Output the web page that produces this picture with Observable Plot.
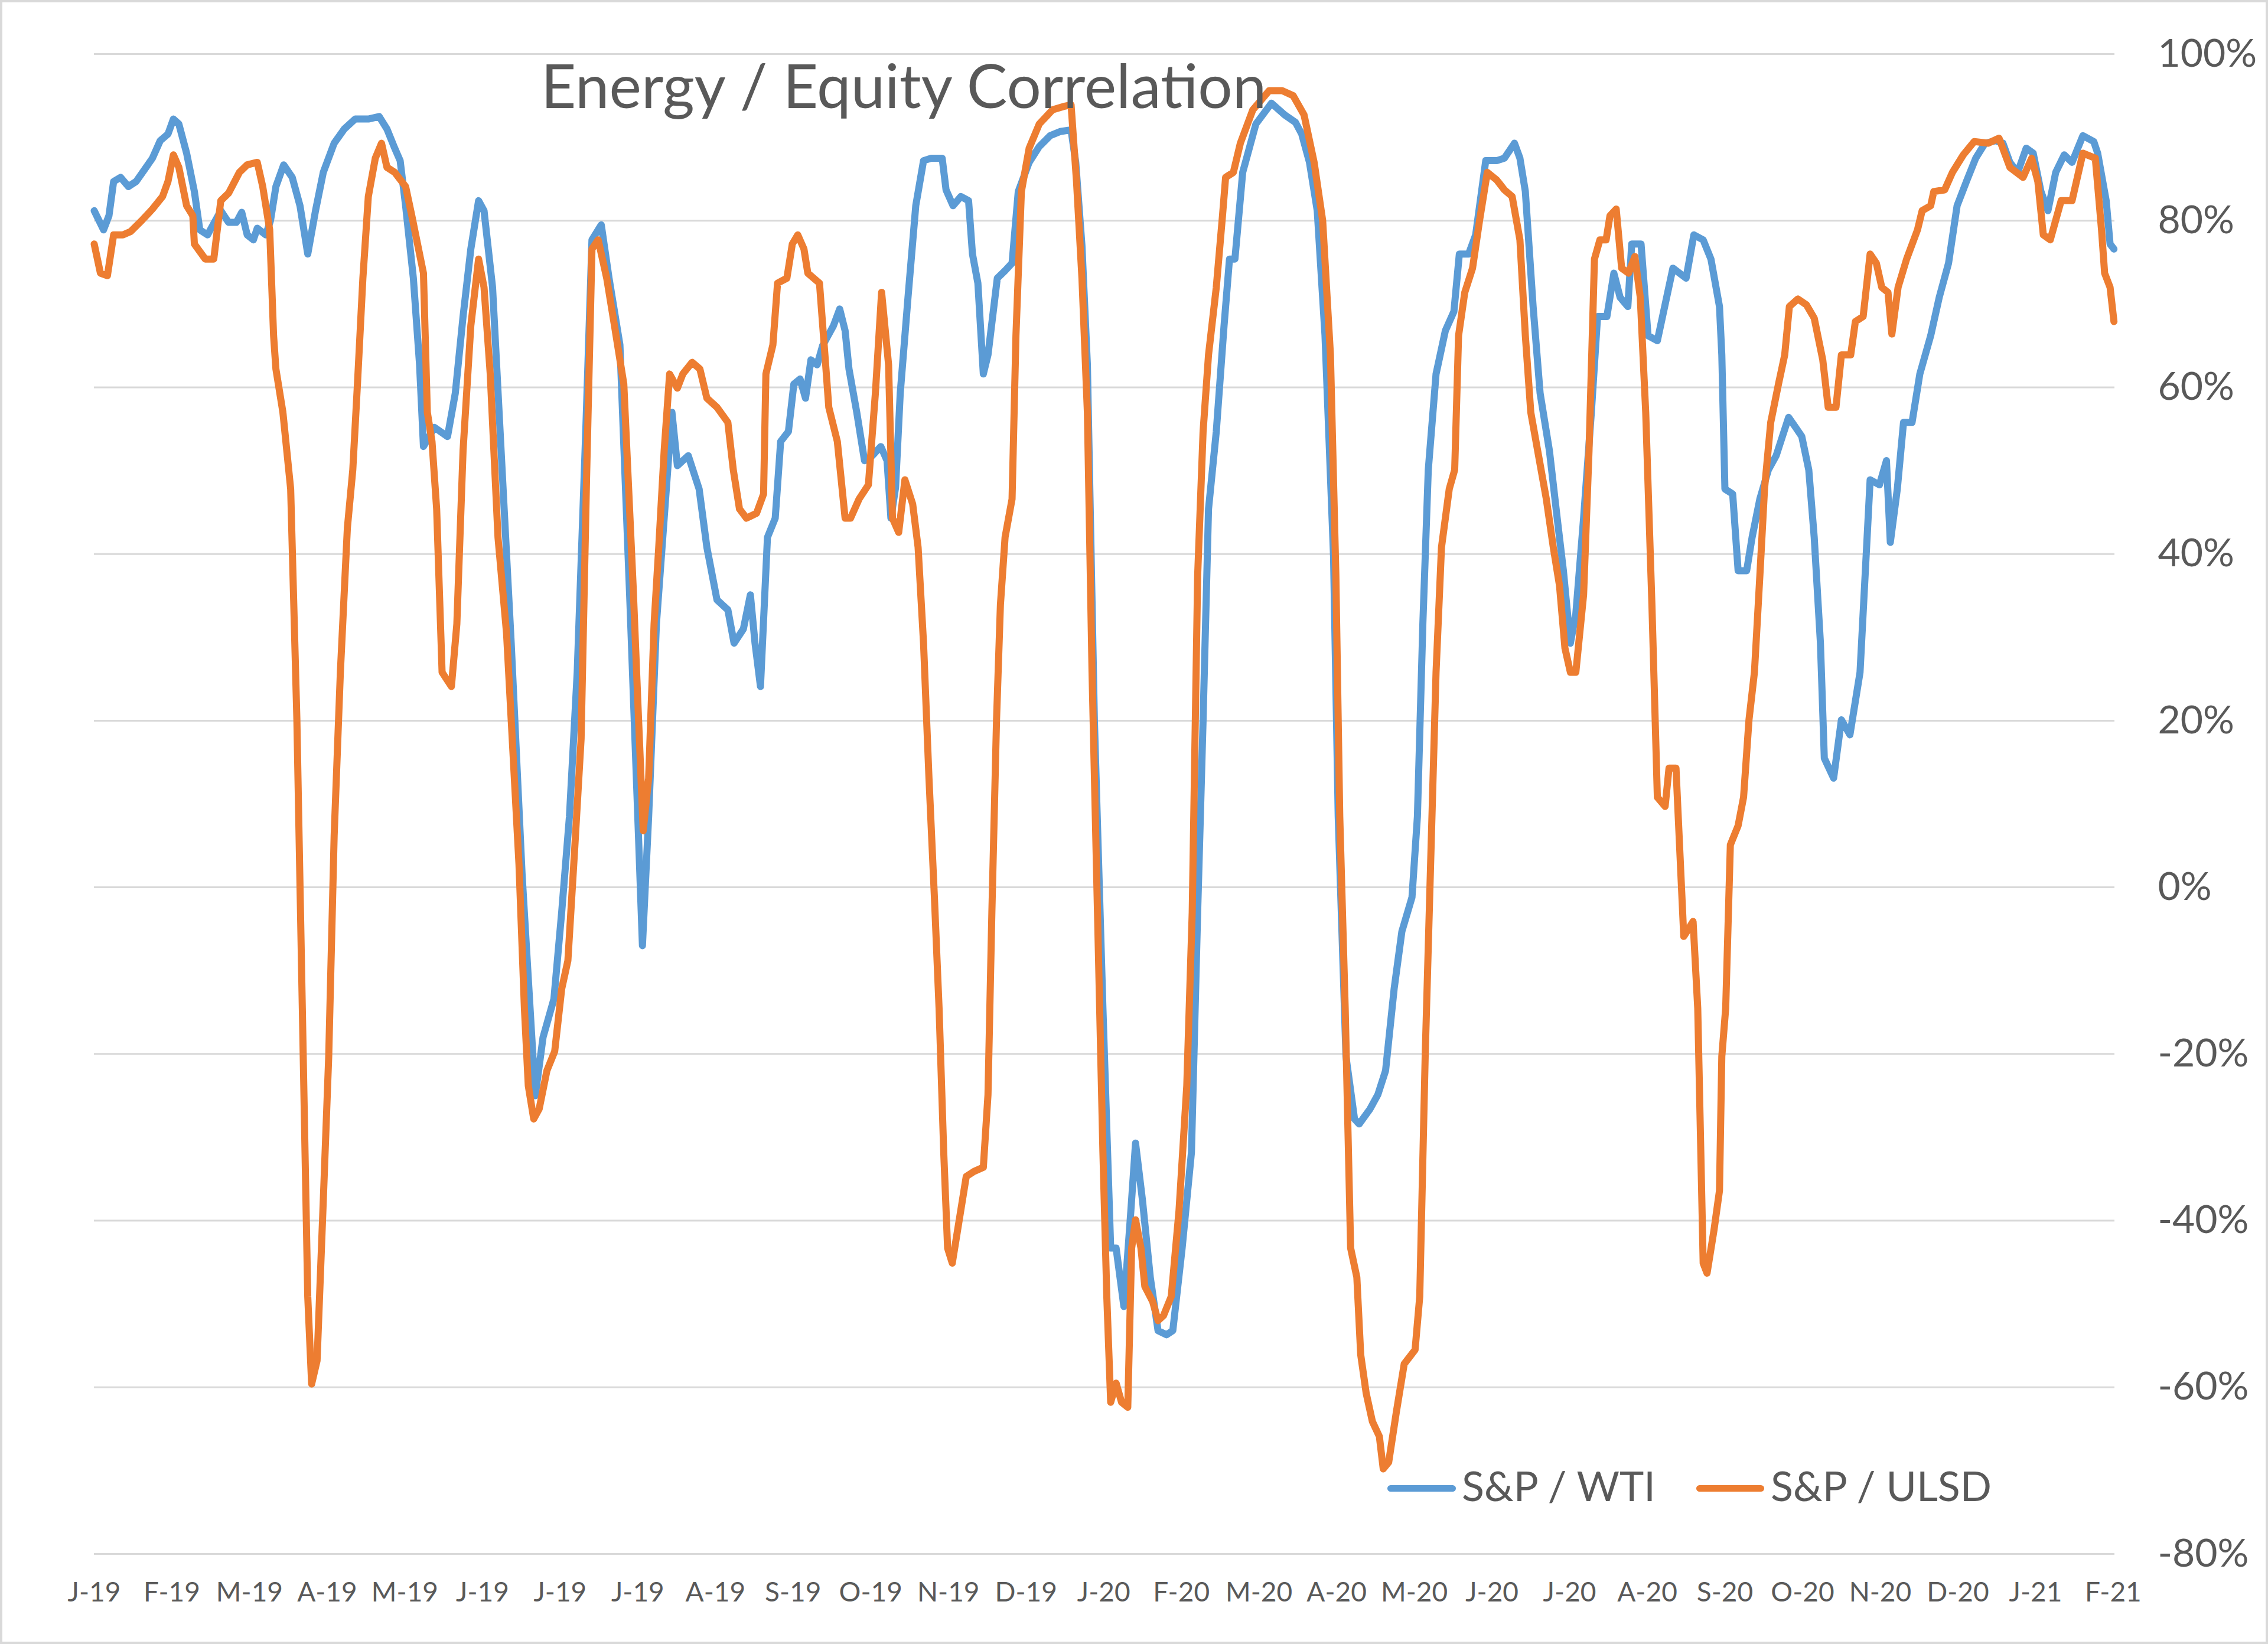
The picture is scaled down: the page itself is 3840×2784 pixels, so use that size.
<!DOCTYPE html>
<html>
<head>
<meta charset="utf-8">
<script src="https://cdn.jsdelivr.net/npm/d3@7"></script>
<script src="https://cdn.jsdelivr.net/npm/@observablehq/plot@0.6"></script>
<style>
  html, body { margin: 0; padding: 0; background: #ffffff; }
  #wrap { position: relative; width: 3840px; height: 2784px; background: #ffffff; font-family: Lato, "Open Sans", sans-serif; color: #595959; }
  #border { position: absolute; left: 0; top: 0; width: 3840px; height: 2784px; box-sizing: border-box; border: 4px solid #d9d9d9; pointer-events: none; }
  .title { position: absolute; left: 916px; top: 92px; font-size: 103px; line-height: 1; white-space: nowrap; color: #595959; }
  .sw { position: absolute; height: 11px; border-radius: 6px; }
  .lg { position: absolute; font-size: 70px; line-height: 1; white-space: nowrap; color: #595959; }
</style>
</head>
<body>
<div id="wrap">
  <div id="chart"></div>
  <div class="title">Energy / Equity Correlation</div>
  <div class="sw" style="left:2349px; top:2515px; width:116px; background:#5B9BD5;"></div>
  <div class="lg" style="left:2475px; top:2480px;">S&amp;P / WTI</div>
  <div class="sw" style="left:2872px; top:2515px; width:115px; background:#ED7D31;"></div>
  <div class="lg" style="left:2998px; top:2480px;">S&amp;P / ULSD</div>
  <div id="border"></div>
</div>
<script>
// Category axis labels (one every ~20 trading days), positions 0..26
const xLabels = ["J-19","F-19","M-19","A-19","M-19","J-19","J-19","J-19","A-19","S-19","O-19","N-19","D-19",
  "J-20","F-20","M-20","A-20","M-20","J-20","J-20","A-20","S-20","O-20","N-20","D-20","J-21","F-21"];
const yTicks = [-80, -60, -40, -20, 0, 20, 40, 60, 80, 100];

// S&P / WTI correlation, [axis position, percent]
const wti = [[0,81.2],[0.12,78.9],[0.19,80.6],[0.25,84.7],[0.34,85.2],[0.44,84.1],[0.54,84.7],[0.75,87.5],[0.85,89.6],[0.95,90.4],[1.02,92.2],[1.09,91.6],[1.19,88.1],[1.29,83.5],[1.36,78.9],[1.46,78.3],[1.53,79.5],[1.63,81.2],[1.73,79.8],[1.83,79.8],[1.90,81.0],[1.97,78.3],[2.05,77.7],[2.10,79.1],[2.21,78.3],[2.27,80.0],[2.34,84.1],[2.44,86.7],[2.55,85.2],[2.65,81.8],[2.75,76.0],[2.85,81.2],[2.95,85.8],[3.09,89.3],[3.22,91.0],[3.36,92.2],[3.53,92.2],[3.67,92.5],[3.77,91.0],[3.87,88.7],[3.94,87.2],[4.01,81.8],[4.11,73.1],[4.19,62.7],[4.24,52.9],[4.38,55.2],[4.55,54.1],[4.65,59.3],[4.75,68.5],[4.85,76.6],[4.95,82.4],[5.02,81.2],[5.13,72.0],[5.24,52.4],[5.37,29.3],[5.51,1.6],[5.68,-25.0],[5.78,-18.0],[5.92,-13.4],[6.02,-3.0],[6.12,8.5],[6.22,25.8],[6.33,54.7],[6.41,77.7],[6.53,79.5],[6.63,73.1],[6.77,65.1],[6.90,33.9],[7.00,8.5],[7.06,-7.0],[7.14,8.5],[7.24,31.6],[7.34,44.3],[7.44,57.0],[7.51,50.6],[7.65,51.8],[7.79,47.8],[7.89,40.8],[8.02,34.5],[8.16,33.3],[8.24,29.3],[8.36,31.0],[8.45,35.1],[8.51,29.3],[8.58,24.1],[8.67,42.0],[8.77,44.3],[8.84,53.5],[8.94,54.7],[9.01,60.4],[9.09,61.0],[9.16,58.7],[9.23,63.3],[9.31,62.7],[9.38,65.0],[9.52,67.4],[9.60,69.4],[9.67,66.8],[9.72,62.2],[9.82,57.0],[9.92,51.2],[10.02,51.8],[10.13,52.9],[10.21,51.2],[10.26,44.3],[10.32,48.0],[10.38,59.3],[10.48,70.8],[10.58,81.8],[10.68,87.2],[10.78,87.5],[10.92,87.5],[10.97,83.7],[11.06,81.8],[11.16,82.9],[11.26,82.4],[11.31,76.0],[11.38,72.5],[11.45,61.6],[11.51,63.9],[11.63,73.1],[11.73,74.0],[11.82,74.9],[11.90,83.5],[12.04,87.0],[12.17,88.9],[12.31,90.2],[12.44,90.7],[12.58,90.9],[12.64,87.0],[12.72,77.0],[12.79,62.7],[12.88,20.1],[12.99,-14.5],[13.09,-43.3],[13.16,-43.3],[13.26,-50.3],[13.35,-38.8],[13.41,-30.7],[13.50,-37.6],[13.60,-46.8],[13.70,-53.2],[13.81,-53.7],[13.89,-53.2],[14.01,-43.3],[14.13,-31.8],[14.21,-3.0],[14.28,20.1],[14.35,45.4],[14.45,54.7],[14.55,67.4],[14.62,75.4],[14.69,75.4],[14.79,85.8],[14.96,91.6],[15.16,94.1],[15.33,92.7],[15.47,91.8],[15.55,90.4],[15.65,87.0],[15.75,81.2],[15.85,66.2],[15.96,39.7],[16.02,8.5],[16.12,-20.3],[16.23,-27.8],[16.29,-28.4],[16.43,-26.6],[16.53,-24.9],[16.63,-22.0],[16.74,-12.2],[16.84,-5.3],[16.97,-1.2],[17.04,8.5],[17.11,31.6],[17.18,50.1],[17.28,61.6],[17.40,66.8],[17.51,69.1],[17.58,76.0],[17.70,76.0],[17.79,78.3],[17.92,87.2],[18.06,87.2],[18.16,87.5],[18.29,89.3],[18.36,87.5],[18.43,83.5],[18.53,69.7],[18.62,59.3],[18.74,52.4],[18.84,44.3],[18.92,38.0],[19.01,29.3],[19.08,32.8],[19.18,44.3],[19.28,57.0],[19.36,68.5],[19.48,68.5],[19.57,73.7],[19.65,70.8],[19.75,69.7],[19.80,77.2],[19.92,77.2],[20.01,66.2],[20.13,65.6],[20.33,74.3],[20.50,73.1],[20.60,78.3],[20.72,77.7],[20.82,75.4],[20.93,69.7],[20.96,63.9],[21.00,47.8],[21.10,47.2],[21.17,38.0],[21.28,38.0],[21.35,42.0],[21.45,46.6],[21.56,50.1],[21.66,51.8],[21.82,56.4],[21.91,55.2],[21.99,54.1],[22.08,50.1],[22.15,42.0],[22.23,29.3],[22.28,15.5],[22.40,13.1],[22.50,20.1],[22.61,18.3],[22.74,25.8],[22.87,48.9],[22.99,48.3],[23.08,51.2],[23.13,41.4],[23.22,47.8],[23.30,55.8],[23.41,55.8],[23.51,61.6],[23.65,66.2],[23.76,70.8],[23.88,74.9],[23.99,81.8],[24.11,84.7],[24.23,87.5],[24.35,89.3],[24.49,89.6],[24.58,89.3],[24.67,87.0],[24.77,85.8],[24.88,88.7],[24.97,88.1],[25.07,83.5],[25.16,81.2],[25.26,85.8],[25.37,87.9],[25.47,87.0],[25.61,90.2],[25.75,89.5],[25.80,88.1],[25.91,82.4],[25.96,77.2],[26.01,76.6]];

// S&P / ULSD correlation, [axis position, percent]
const ulsd = [[0,77.2],[0.08,73.7],[0.17,73.4],[0.25,78.3],[0.37,78.3],[0.47,78.7],[0.61,80.0],[0.75,81.4],[0.88,82.9],[0.95,84.7],[1.02,87.9],[1.09,86.4],[1.19,81.8],[1.27,80.6],[1.29,77.2],[1.43,75.4],[1.54,75.4],[1.63,82.4],[1.73,83.3],[1.87,85.8],[1.97,86.7],[2.10,87.0],[2.17,84.1],[2.26,78.9],[2.31,66.2],[2.34,62.2],[2.43,57.0],[2.53,47.8],[2.61,20.1],[2.68,-14.5],[2.75,-49.1],[2.80,-59.6],[2.87,-56.8],[2.95,-37.6],[3.02,-20.3],[3.09,6.2],[3.17,25.8],[3.26,43.1],[3.33,50.1],[3.39,60.4],[3.46,73.1],[3.53,82.9],[3.62,87.5],[3.70,89.3],[3.77,86.4],[3.87,85.8],[4.01,84.1],[4.09,80.6],[4.24,73.7],[4.29,57.0],[4.35,53.5],[4.41,45.4],[4.48,25.8],[4.60,24.1],[4.67,31.6],[4.75,52.4],[4.85,67.4],[4.95,75.4],[5.02,72.0],[5.10,61.6],[5.20,42.0],[5.31,30.5],[5.37,20.1],[5.47,2.8],[5.54,-14.5],[5.59,-23.8],[5.66,-27.8],[5.73,-26.6],[5.83,-22.0],[5.93,-19.7],[6.02,-12.2],[6.10,-8.8],[6.19,5.0],[6.27,17.8],[6.34,48.9],[6.41,76.6],[6.49,77.7],[6.60,73.1],[6.70,67.4],[6.82,60.4],[6.94,36.2],[7.00,22.4],[7.07,6.8],[7.14,13.1],[7.21,31.6],[7.27,40.8],[7.34,52.4],[7.41,61.6],[7.51,59.9],[7.58,61.6],[7.70,63.0],[7.80,62.2],[7.89,58.7],[8.02,57.6],[8.16,55.8],[8.23,50.1],[8.31,45.4],[8.40,44.3],[8.53,44.9],[8.62,47.2],[8.65,61.6],[8.74,65.1],[8.80,72.5],[8.92,73.1],[8.99,77.2],[9.06,78.3],[9.14,76.6],[9.19,73.7],[9.34,72.5],[9.41,63.9],[9.46,57.6],[9.57,53.5],[9.67,44.3],[9.74,44.3],[9.85,46.6],[9.97,48.3],[10.06,59.3],[10.14,71.4],[10.23,62.7],[10.28,44.3],[10.36,42.6],[10.44,48.9],[10.54,46.0],[10.61,40.8],[10.68,29.3],[10.75,13.1],[10.82,-1.2],[10.88,-14.5],[10.94,-31.8],[10.99,-43.3],[11.05,-45.1],[11.14,-39.9],[11.23,-34.7],[11.33,-34.1],[11.45,-33.6],[11.51,-24.9],[11.56,-3.0],[11.62,20.1],[11.67,33.9],[11.73,42.0],[11.82,46.6],[11.87,66.2],[11.94,83.5],[12.04,88.7],[12.17,91.6],[12.34,93.3],[12.48,93.7],[12.58,93.9],[12.65,84.7],[12.72,73.1],[12.79,57.0],[12.85,25.8],[12.92,-3.0],[12.99,-31.8],[13.04,-49.1],[13.09,-61.8],[13.16,-59.5],[13.23,-61.8],[13.31,-62.4],[13.36,-43.3],[13.41,-39.9],[13.48,-43.3],[13.53,-47.9],[13.63,-49.7],[13.70,-52.0],[13.77,-51.4],[13.87,-49.1],[13.97,-38.8],[14.07,-23.8],[14.14,-3.0],[14.21,37.4],[14.28,54.7],[14.35,63.9],[14.45,72.0],[14.53,80.6],[14.57,85.2],[14.67,85.8],[14.76,89.3],[14.92,93.3],[15.13,95.6],[15.30,95.6],[15.44,95.0],[15.58,92.7],[15.71,87.0],[15.82,80.0],[15.92,63.9],[15.99,37.4],[16.04,8.5],[16.11,-14.5],[16.18,-43.3],[16.26,-46.8],[16.31,-56.1],[16.38,-60.7],[16.46,-64.1],[16.55,-65.9],[16.60,-69.8],[16.67,-69.0],[16.77,-62.9],[16.87,-57.2],[17.01,-55.5],[17.07,-49.1],[17.14,-20.3],[17.21,2.8],[17.28,25.8],[17.35,40.8],[17.45,47.8],[17.52,50.1],[17.57,66.2],[17.65,71.4],[17.75,74.3],[17.84,80.0],[17.94,85.8],[18.06,84.9],[18.16,83.7],[18.26,82.9],[18.36,77.7],[18.43,66.2],[18.50,57.0],[18.60,51.8],[18.70,46.6],[18.79,40.8],[18.87,36.2],[18.94,28.7],[19.01,25.8],[19.08,25.8],[19.18,35.1],[19.25,52.4],[19.32,75.4],[19.39,77.7],[19.47,77.7],[19.52,80.6],[19.60,81.4],[19.67,74.3],[19.76,73.7],[19.84,75.7],[19.91,70.8],[19.98,57.0],[20.06,33.9],[20.13,10.8],[20.23,9.7],[20.28,14.3],[20.37,14.3],[20.47,-5.9],[20.59,-4.1],[20.65,-14.5],[20.72,-45.1],[20.77,-46.3],[20.86,-41.1],[20.93,-36.4],[20.96,-20.3],[21.01,-14.5],[21.07,5.1],[21.17,7.4],[21.24,10.8],[21.31,20.1],[21.38,25.8],[21.45,37.4],[21.51,47.8],[21.59,55.8],[21.69,60.4],[21.77,63.9],[21.83,69.7],[21.94,70.6],[22.05,69.9],[22.15,68.3],[22.26,63.3],[22.33,57.6],[22.43,57.6],[22.50,63.9],[22.62,63.9],[22.68,67.9],[22.78,68.5],[22.87,76.0],[22.95,74.9],[23.02,72.0],[23.10,71.4],[23.15,66.4],[23.23,72.0],[23.34,75.4],[23.48,78.9],[23.54,81.2],[23.65,81.8],[23.69,83.5],[23.83,83.7],[23.93,85.8],[24.07,87.9],[24.21,89.5],[24.39,89.3],[24.53,89.9],[24.67,86.4],[24.84,85.2],[24.95,87.5],[25.03,84.7],[25.10,78.3],[25.19,77.7],[25.33,82.4],[25.47,82.4],[25.61,88.1],[25.77,87.5],[25.85,78.9],[25.89,73.7],[25.96,72.0],[26.01,67.9]];

const xTicks = xLabels.map((_, i) => i);

const chart = Plot.plot({
  width: 3840,
  height: 2784,
  marginLeft: 159,
  marginRight: 260,
  marginTop: 91,
  marginBottom: 153,
  style: { fontFamily: "Lato, 'Open Sans', sans-serif", background: "transparent", color: "#595959" },
  x: { domain: [0, 26.02] },
  y: { domain: [-80, 100] },
  marks: [
    Plot.gridY(yTicks, { stroke: "#d9d9d9", strokeOpacity: 1, strokeWidth: 3 }),
    Plot.axisX(xTicks, { tickSize: 0, tickPadding: 48, fontSize: 46, fill: "#595959", tickFormat: (i) => xLabels[i], label: null }),
    Plot.axisY(yTicks, { anchor: "right", tickSize: 0, tickPadding: 73, fontSize: 66, fill: "#595959", tickFormat: (d) => d + "%", label: null }),
    Plot.line(wti, { x: (d) => d[0], y: (d) => d[1], stroke: "#5B9BD5", strokeWidth: 12, strokeLinejoin: "round", strokeLinecap: "round" }),
    Plot.line(ulsd, { x: (d) => d[0], y: (d) => d[1], stroke: "#ED7D31", strokeWidth: 12, strokeLinejoin: "round", strokeLinecap: "round" })
  ]
});
document.getElementById("chart").appendChild(chart);
</script>
</body>
</html>
